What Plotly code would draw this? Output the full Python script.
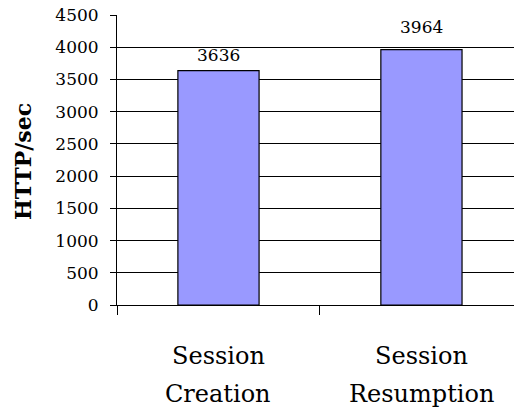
import plotly.graph_objects as go

# Throughput per TLS handshake mode
categories = ["Session Creation", "Session Resumption"]
throughput = [3636, 3964]
label_lift = [9, 16]          # px gap between bar top and its value label
y_ticks = list(range(0, 4501, 500))
y_title = "HTTP/sec"

SERIF = "DejaVu Serif"

fig = go.Figure()
fig.add_trace(go.Bar(
    x=categories,
    y=throughput,
    width=0.4,
    marker=dict(color="#9999FF", line=dict(color="#000000", width=1.2)),
    hoverinfo="skip",
))

annotations = []
# value labels above each bar
for cat, val, lift in zip(categories, throughput, label_lift):
    annotations.append(dict(
        x=cat, y=val, xref="x", yref="y", text=str(val), showarrow=False,
        xanchor="center", yanchor="bottom", yshift=lift - 5,
        font=dict(family=SERIF, size=17, color="#000000"),
    ))
# two-line category labels under the axis
for cat in categories:
    for i, word in enumerate(cat.split(" ")):
        annotations.append(dict(
            x=cat, y=0, xref="x", yref="paper", text=word, showarrow=False,
            xanchor="center", yanchor="middle", yshift=-(51 + 38 * i),
            font=dict(family=SERIF, size=24, color="#000000"),
        ))
# rotated value-axis title
annotations.append(dict(
    x=0, y=0.5, xref="paper", yref="paper", text=f"<b>{y_title}</b>",
    showarrow=False, textangle=-90, xanchor="center", yanchor="middle",
    xshift=-94, yshift=-2, font=dict(family=SERIF, size=22, color="#000000"),
))

fig.update_layout(
    width=514, height=408,
    margin=dict(l=117, r=0, t=15, b=103),
    paper_bgcolor="#ffffff", plot_bgcolor="#ffffff",
    showlegend=False,
    annotations=annotations,
    bargap=0.6,
)
fig.update_xaxes(
    type="category",
    range=[-0.5, 1.456],
    showticklabels=False,
    tickson="boundaries",
    ticks="outside", ticklen=9, tickwidth=1, tickcolor="#000000",
    showline=True, linecolor="#000000", linewidth=1,
    showgrid=False, zeroline=False,
)
fig.update_yaxes(
    range=[0, 4500],
    tickvals=y_ticks,
    ticks="outside", ticklen=6, tickwidth=1, tickcolor="#000000",
    ticklabelstandoff=8,
    tickfont=dict(family=SERIF, size=17, color="#000000"),
    showline=True, linecolor="#000000", linewidth=1,
    showgrid=True, gridcolor="#000000", gridwidth=1,
    zeroline=False,
)

fig.write_html("out.html", config={"displayModeBar": False})
